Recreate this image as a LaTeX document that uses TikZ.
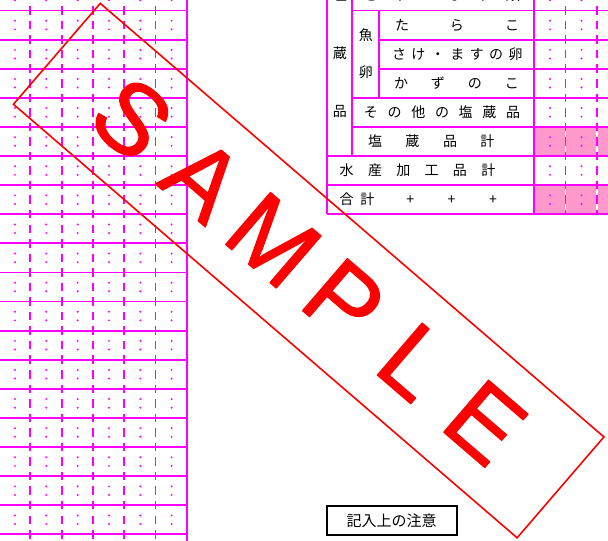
\documentclass[tikz,border=0pt]{standalone}
\usepackage{fontspec}
\newfontfamily\jpfont{Noto Sans CJK JP}
\newfontfamily\stampfont{Liberation Sans}
\definecolor{mag}{RGB}{255,0,255}
\definecolor{cellpink}{RGB}{255,153,204}
\newlength\chw
\newcommand\ch[1]{\makebox[\chw]{#1}}
\newcommand\strokedon{\special{pdf:literal direct 2 Tr 1.1 w 1 j 1 J}}
\newcommand\strokedoff{\special{pdf:literal direct 0 Tr}}
\tikzset{
  gridline/.style={draw=mag, line width=1.8pt},
  dashline/.style={draw=mag, line width=1.8pt, dash pattern=on 8.5pt off 6.05pt},
  gapline/.style={draw=white, line width=1.8pt},
  griddot/.style={fill=mag},
  cell/.style={font=\jpfont\fontsize{14}{16}\selectfont, inner sep=0pt, text=black, text height=12.3pt, text depth=1.7pt},
  stampbox/.style={draw=red, line width=1.6pt, rotate=-40.72, minimum width=664.6pt, minimum height=133.1pt, inner sep=0pt},
  stamptext/.style={text=red, font=\stampfont\fontsize{100}{100}\selectfont, rotate=-40.72, inner sep=0pt},
  notebox/.style={draw=black, line width=1.8pt, minimum width=130pt, minimum height=29pt, inner sep=0pt, font=\jpfont\fontsize{15}{17}\selectfont}
}
\begin{document}
\begin{tikzpicture}[x=1pt,y=-1pt]
\useasboundingbox (0,0) rectangle (608,541);
\begin{scope}
\clip (0,0) rectangle (608,541);
\fill[white] (0,0) rectangle (608,541);
% ---------- left grid ----------
\foreach \k in {0,...,18} \draw[gridline] (-2,{10.5+29.1*\k}) -- (186.8,{10.5+29.1*\k});
\foreach \x in {30.3,61.6,92.9,124.2,155.5} \draw[dashline] (\x,-22.85) -- (\x,560);
\draw[gridline] (186.8,-5) -- (186.8,560);
\foreach \k in {-1,...,18} {
  \foreach \x in {15,46.3,77.7,109,140.3,171.6} {
    \fill[griddot] (\x,{10.5+29.1*(\k+0.5)-4.3}) circle (1.1pt);
    \fill[griddot] (\x,{10.5+29.1*(\k+0.5)+4.3}) circle (1.1pt);
  }
}
% ---------- right table ----------
\fill[cellpink] (534,126.9) rectangle (620,156);
\fill[cellpink] (534,185.1) rectangle (620,214.2);
\foreach \x in {565.5,597} {
  \draw[gapline] (\x,126.9) -- (\x,156);
  \draw[gapline] (\x,185.1) -- (\x,214.2);
  \draw[dashline] (\x,-22.85) -- (\x,214.2);
}
\foreach \r in {0,...,7} {
  \foreach \x in {550,581.5,613} {
    \fill[griddot] (\x,{10.5+29.1*(\r-0.5)-4.3}) circle (1.1pt);
    \fill[griddot] (\x,{10.5+29.1*(\r-0.5)+4.3}) circle (1.1pt);
  }
}
\draw[gridline] (352.3,10.5) -- (620,10.5);
\draw[gridline] (379.3,39.6) -- (620,39.6);
\draw[gridline] (379.3,68.7) -- (620,68.7);
\draw[gridline] (352.3,97.8) -- (620,97.8);
\draw[gridline] (352.3,126.9) -- (620,126.9);
\draw[gridline] (327.3,156) -- (620,156);
\draw[gridline] (327.3,185.1) -- (620,185.1);
\draw[gridline] (327.3,214.2) -- (620,214.2);
\draw[gridline] (327.3,-5) -- (327.3,214.2);
\draw[gridline] (352.3,-5) -- (352.3,156);
\draw[gridline] (379.3,10.5) -- (379.3,97.8);
\draw[gridline] (534,-5) -- (534,214.2);
% texts
\node[cell] (e1) at (339.8,-5.2) {塩};
\node[cell] (e2) at (339.8,53.3) {蔵};
\node[cell] (e3) at (339.8,111) {品};
\node[cell] (g1) at (365.8,35) {魚};
\node[cell] (g2) at (365.8,72.5) {卵};
\node[cell] (r0) at (442,-5.2) {\setlength\chw{28.4pt}\ch{さ}\ch{け}\ch{・}\ch{ま}\ch{す}\ch{類}};
\node[cell] (r1) at (457,25.05) {\setlength\chw{55pt}\ch{た}\ch{ら}\ch{こ}};
\node[cell] (r2) at (457.35,54.15) {\setlength\chw{19.45pt}\ch{さ}\ch{け}\ch{・}\ch{ま}\ch{す}\ch{の}\ch{卵}};
\node[cell] (r3) at (456.5,83.25) {\setlength\chw{37pt}\ch{か}\ch{ず}\ch{の}\ch{こ}};
\node[cell] (r4) at (442,112.35) {\setlength\chw{23.67pt}\ch{そ}\ch{の}\ch{他}\ch{の}\ch{塩}\ch{蔵}\ch{品}};
\node[cell] (r5) at (431.25,141.45) {\setlength\chw{37.5pt}\ch{塩}\ch{蔵}\ch{品}\ch{計}};
\node[cell] (r6) at (417.5,170.55) {\setlength\chw{28.33pt}\ch{水}\ch{産}\ch{加}\ch{工}\ch{品}\ch{計}};
\node[cell] (r7a) at (357.1,199.65) {\setlength\chw{20.8pt}\ch{合}\ch{計}};
\node[cell] (r7b) at (451.6,199.65) {\setlength\chw{41.3pt}\ch{+}\ch{+}\ch{+}};
% notes box
\node[notebox] (notes) at (391.7,520.6) {記入上の注意};
% ---------- SAMPLE stamp ----------
\node[stampbox] (stamp) at (308.7,270.6) {};
\node[stamptext] (stampword) at (stamp.center) {\strokedon\setlength\chw{93.2pt}\ch{S}\ch{A}\ch{M}\ch{P}\ch{L}\ch{E}\strokedoff};
\end{scope}
\end{tikzpicture}
\end{document}
